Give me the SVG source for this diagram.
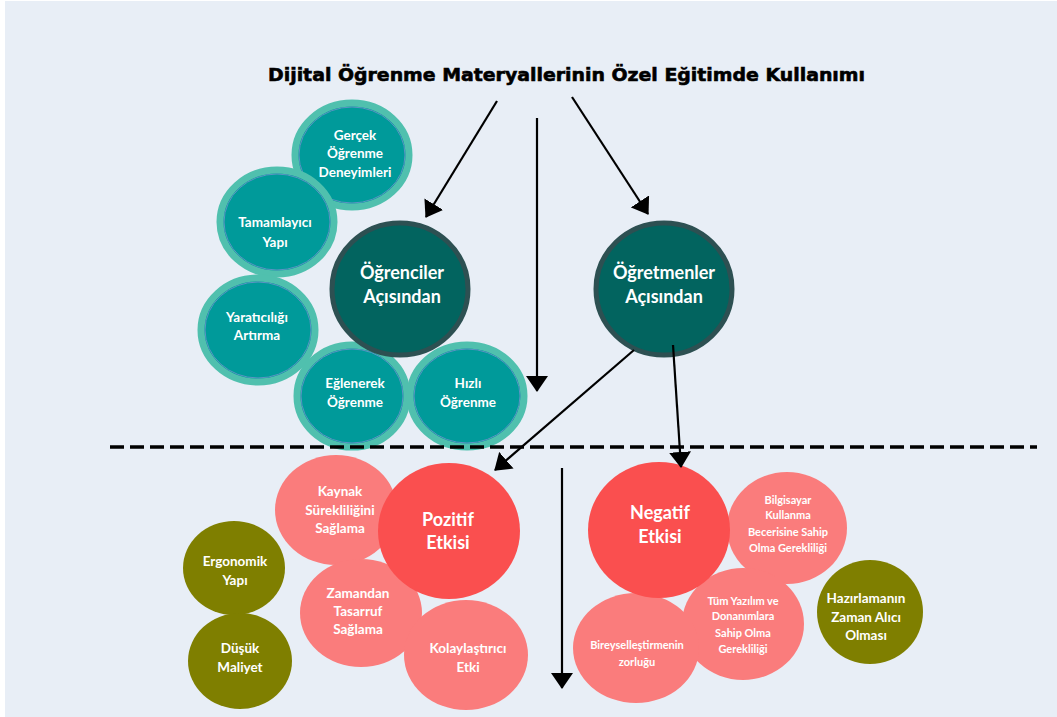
<svg xmlns="http://www.w3.org/2000/svg" width="1057" height="717" viewBox="0 0 1057 717">
  <defs>
    <marker id="ah" viewBox="0 0 16 22" refX="15" refY="11" markerWidth="16" markerHeight="22" markerUnits="userSpaceOnUse" orient="auto">
      <path d="M0,0 L16,11 L0,22 Z" fill="#000"/>
    </marker>
    <style>
      .bg { fill: #E8EEF6; }
      .title { font-family: "DejaVu Sans", Verdana, sans-serif; font-weight: bold; font-size: 18px; fill: #000; stroke: #000; stroke-width: 0.6; }
      .lbl { font-family: Lato, "Open Sans", "Liberation Sans", sans-serif; font-weight: bold; fill: #fff; text-anchor: middle; }
      .big { font-size: 18px; }
      .mid { font-size: 13.5px; }
      .sm { font-size: 11px; }
      .teal { fill: #009A9A; stroke: #50C0AE; stroke-width: 7; }
      .tealin { fill: none; stroke: #5C93C4; stroke-width: 1; }
      .dark { fill: #02645F; stroke: #2D5052; stroke-width: 5; }
      .red { fill: #FA4F4F; }
      .pink { fill: #FA7C7C; }
      .olive { fill: #7F7F00; }
      .conn { stroke: #000; stroke-width: 2.2; fill: none; }
      .dash { stroke: #000; stroke-width: 3.5; stroke-dasharray: 14 6; fill: none; }
    </style>
  </defs>

  <rect class="bg" x="5" y="1" width="1052" height="716"/>

  <text class="title" x="268" y="81" textLength="597" lengthAdjust="spacingAndGlyphs">Dijital Öğrenme Materyallerinin Özel Eğitimde Kullanımı</text>

  <!-- learner-side benefits -->
  <g id="gercek">
    <ellipse class="teal" cx="352" cy="155" rx="57" ry="52"/>
    <ellipse class="tealin" cx="352" cy="155" rx="53" ry="48"/>
    <text class="lbl mid" x="355" y="140">Gerçek</text>
    <text class="lbl mid" x="355" y="158">Öğrenme</text>
    <text class="lbl mid" x="355" y="177">Deneyimleri</text>
  </g>
  <g id="tamamlayici">
    <ellipse class="teal" cx="277" cy="222" rx="57" ry="52"/>
    <ellipse class="tealin" cx="277" cy="222" rx="53" ry="48"/>
    <text class="lbl mid" x="275" y="227">Tamamlayıcı</text>
    <text class="lbl mid" x="275" y="247">Yapı</text>
  </g>
  <g id="yaraticilik">
    <ellipse class="teal" cx="258" cy="330" rx="57" ry="52"/>
    <ellipse class="tealin" cx="258" cy="330" rx="53" ry="48"/>
    <text class="lbl mid" x="257" y="322">Yaratıcılığı</text>
    <text class="lbl mid" x="257" y="340">Artırma</text>
  </g>
  <g id="eglenerek">
    <ellipse class="teal" cx="352" cy="396" rx="55" ry="51"/>
    <ellipse class="tealin" cx="352" cy="396" rx="51" ry="47"/>
    <text class="lbl mid" x="355" y="388">Eğlenerek</text>
    <text class="lbl mid" x="355" y="407">Öğrenme</text>
  </g>
  <g id="hizli">
    <ellipse class="teal" cx="467" cy="396" rx="57" ry="51"/>
    <ellipse class="tealin" cx="467" cy="396" rx="53" ry="47"/>
    <text class="lbl mid" x="468" y="388">Hızlı</text>
    <text class="lbl mid" x="468" y="407">Öğrenme</text>
  </g>
  <g id="ogrenciler">
    <ellipse class="dark" cx="400" cy="289" rx="68" ry="66"/>
    <text class="lbl big" x="402" y="279">Öğrenciler</text>
    <text class="lbl big" x="402" y="303">Açısından</text>
  </g>
  <g id="ogretmenler">
    <ellipse class="dark" cx="664" cy="289" rx="68" ry="66"/>
    <text class="lbl big" x="664" y="279">Öğretmenler</text>
    <text class="lbl big" x="664" y="303">Açısından</text>
  </g>

  <!-- positive effects -->
  <g id="kaynak">
    <ellipse class="pink" cx="336" cy="510" rx="61" ry="55"/>
    <text class="lbl mid" x="340" y="496">Kaynak</text>
    <text class="lbl mid" x="340" y="515">Sürekliliğini</text>
    <text class="lbl mid" x="340" y="533">Sağlama</text>
  </g>
  <g id="zamandan">
    <ellipse class="pink" cx="361" cy="613" rx="61" ry="54"/>
    <text class="lbl mid" x="358" y="598">Zamandan</text>
    <text class="lbl mid" x="358" y="616">Tasarruf</text>
    <text class="lbl mid" x="358" y="634">Sağlama</text>
  </g>
  <g id="kolaylastirici">
    <ellipse class="pink" cx="466" cy="655" rx="62" ry="55"/>
    <text class="lbl mid" x="468" y="653">Kolaylaştırıcı</text>
    <text class="lbl mid" x="468" y="672">Etki</text>
  </g>
  <g id="pozitif">
    <ellipse class="red" cx="449" cy="531" rx="71" ry="68"/>
    <text class="lbl big" x="448" y="526">Pozitif</text>
    <text class="lbl big" x="448" y="549">Etkisi</text>
  </g>
  <g id="ergonomik">
    <ellipse class="olive" cx="234" cy="568" rx="51" ry="47"/>
    <text class="lbl mid" x="235" y="566">Ergonomik</text>
    <text class="lbl mid" x="235" y="585">Yapı</text>
  </g>
  <g id="dusuk">
    <ellipse class="olive" cx="240" cy="661" rx="52" ry="48"/>
    <text class="lbl mid" x="240" y="653">Düşük</text>
    <text class="lbl mid" x="240" y="672">Maliyet</text>
  </g>

  <!-- negative effects -->
  <g id="bilgisayar">
    <ellipse class="pink" cx="787" cy="528" rx="60" ry="56"/>
    <text class="lbl sm" x="788" y="504">Bilgisayar</text>
    <text class="lbl sm" x="788" y="519">Kullanma</text>
    <text class="lbl sm" x="788" y="536">Becerisine  Sahip</text>
    <text class="lbl sm" x="788" y="552">Olma Gerekliliği</text>
  </g>
  <g id="tumyazilim">
    <ellipse class="pink" cx="743" cy="624" rx="61" ry="56"/>
    <text class="lbl sm" x="743" y="605">Tüm Yazılım ve</text>
    <text class="lbl sm" x="743" y="620">Donanımlara</text>
    <text class="lbl sm" x="743" y="637">Sahip Olma</text>
    <text class="lbl sm" x="743" y="653">Gerekliliği</text>
  </g>
  <g id="bireysellestirme">
    <ellipse class="pink" cx="636" cy="648" rx="63" ry="55"/>
    <text class="lbl sm" x="637" y="649">Bireyselleştirmenin</text>
    <text class="lbl sm" x="637" y="666">zorluğu</text>
  </g>
  <g id="negatif">
    <ellipse class="red" cx="659" cy="530" rx="71" ry="68"/>
    <text class="lbl big" x="660" y="519">Negatif</text>
    <text class="lbl big" x="660" y="543">Etkisi</text>
  </g>
  <g id="hazirlama">
    <ellipse class="olive" cx="870" cy="612" rx="53" ry="52"/>
    <text class="lbl mid" x="866" y="603">Hazırlamanın</text>
    <text class="lbl mid" x="866" y="622">Zaman Alıcı</text>
    <text class="lbl mid" x="866" y="640">Olması</text>
  </g>

  <!-- connectors -->
  <g id="connectors">
    <line class="dash" x1="110" y1="447" x2="1037" y2="447"/>
    <line class="conn" x1="497" y1="101" x2="426" y2="217" marker-end="url(#ah)"/>
    <line class="conn" x1="537" y1="118" x2="537" y2="391" marker-end="url(#ah)"/>
    <line class="conn" x1="572" y1="97" x2="648" y2="214" marker-end="url(#ah)"/>
    <line class="conn" x1="634" y1="350" x2="495" y2="470" marker-end="url(#ah)"/>
    <line class="conn" x1="673" y1="345" x2="681" y2="467" marker-end="url(#ah)"/>
    <line class="conn" x1="562" y1="468" x2="562" y2="688" marker-end="url(#ah)"/>
  </g>
</svg>
